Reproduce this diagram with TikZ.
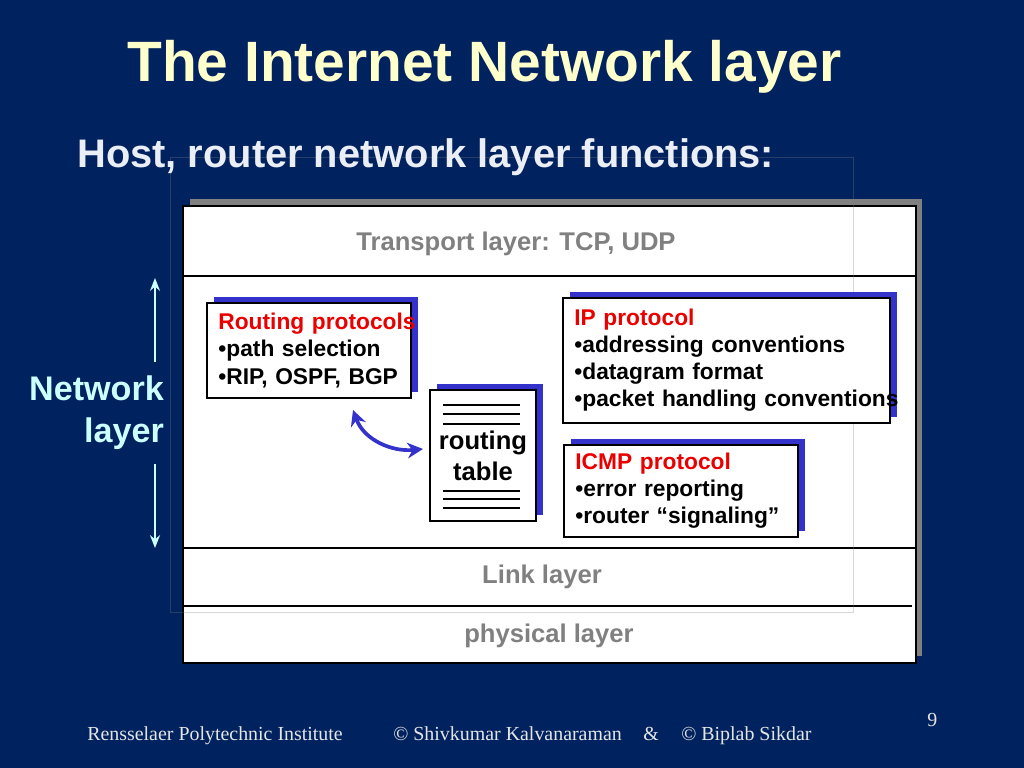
\documentclass[tikz,border=0pt]{standalone}
\usepackage{fontspec}
\setmainfont{Liberation Sans}
\newfontfamily\footfont{Liberation Serif}
\usetikzlibrary{arrows.meta,shadows}

\definecolor{slidebg}{RGB}{0,34,94}
\definecolor{titleyellow}{RGB}{255,255,204}
\definecolor{subwhite}{RGB}{235,238,245}
\definecolor{labelcyan}{RGB}{204,255,255}
\definecolor{shadowblue}{RGB}{51,51,204}
\definecolor{layergray}{RGB}{128,128,128}
\definecolor{protored}{RGB}{235,0,0}

\tikzset{
  layertext/.style={font=\fontsize{18}{22}\selectfont\bfseries, text=layergray},
  layerline/.style={line width=1.3pt},
  protobox/.style={draw=black, line width=1.2pt, fill=white, inner xsep=8pt, align=left,
    font=\fontsize{16}{19}\selectfont\bfseries,
    execute at begin node={\hyphenpenalty=10000\exhyphenpenalty=10000},
    drop shadow={shadow xshift=5pt, shadow yshift=4.5pt, fill=shadowblue, opacity=1}},
  nlarrow/.style={-{Stealth[length=9pt,width=7pt]}, line width=1.5pt, draw=labelcyan},
  swaparrow/.style={{Stealth[length=11pt,width=11pt]}-{Stealth[length=11pt,width=11pt]},
    line width=2.6pt, draw=shadowblue},
  footer/.style={font=\footfont\fontsize{14}{16}\selectfont, text=white!90!black,
    anchor=base west, inner sep=0pt},
}

\begin{document}
\begin{tikzpicture}[x=0.703125pt, y=-0.703125pt]
  % slide
  \fill[slidebg] (0,0) rectangle (1024,768);
  \useasboundingbox (0,0) rectangle (1024,768);

  \node[font=\fontsize{40}{48}\selectfont\bfseries, text=titleyellow, anchor=base west, inner sep=0pt]
    (title) at (127,82) {The Internet Network layer};

  % layer stack
  \fill[layergray] (190,199) rectangle (922,656);
  \draw[fill=white, line width=1.4pt] (183,206) rectangle (916,663);
  \draw[layerline] (183,276) -- (916,276);
  \draw[layerline] (183,548) -- (916,548);
  \draw[layerline] (183,606) -- (912,606);
  \draw[draw=gray, opacity=0.3, line width=0.6pt] (170,157) rectangle (853,612);

  \node[font=\fontsize{28}{34}\selectfont\bfseries, text=subwhite, anchor=base west, inner sep=0pt]
    (sub) at (77,168) {Host, router network layer functions:};

  \node[layertext] (tl) at (516,244) {Transport layer: TCP, UDP};
  \node[layertext] (ll) at (542,577) {Link layer};
  \node[layertext] (pl) at (549,636) {physical layer};

  % network layer boxes
  \node[protobox, text width=127.4pt, minimum width=143.4pt, minimum height=66.8pt]
    (rp) at (309,350.5)
    {\textcolor{protored}{Routing~protocols}\\ •path~selection\\ •RIP,~OSPF,~BGP};
  \node[protobox, text width=213.9pt, minimum width=229.9pt, minimum height=87.9pt]
    (ip) at (726.5,360.5)
    {\textcolor{protored}{IP~protocol}\\ •addressing~conventions\\ •datagram~format\\
     •packet~handling~conventions};
  \node[protobox, text width=148.5pt, minimum width=164.5pt, minimum height=64.7pt]
    (icmp) at (681,491)
    {\textcolor{protored}{ICMP~protocol}\\ •error~reporting\\ •router~“signaling”};
  \node[protobox, align=center, inner xsep=0pt, minimum width=74.5pt, minimum height=92.1pt,
    font=\fontsize{18}{22}\selectfont\bfseries]
    (rt) at (483,455.5) {routing\\table};
  \foreach \ly in {405,414,424,491,499,508}
    \draw[line width=1.2pt] (443,\ly) -- (520,\ly);

  \coordinate (rpend) at (353,410);
  \coordinate (rtend) at (423,449);
  \draw[swaparrow] (rpend) .. controls (364,440) and (392,452) .. (rtend);

  % side label
  \node[font=\fontsize{24}{29.5}\selectfont\bfseries, text=labelcyan, align=right,
    anchor=east, inner sep=2pt] (nl) at (167,413) {Network\\layer};
  \coordinate (upend) at (155,278);
  \coordinate (dnend) at (155,548);
  \draw[nlarrow, shorten <=8pt] (nl.north -| upend) -- (upend);
  \draw[nlarrow, shorten <=8pt] (nl.south -| dnend) -- (dnend);

  % footer
  \node[footer] (rpi) at (87,740) {Rensselaer Polytechnic Institute};
  \node[footer] (sk) at (393,740) {© Shivkumar Kalvanaraman};
  \node[footer] (amp) at (643,740) {\&};
  \node[footer] (bs) at (681,740) {© Biplab Sikdar};
  \node[footer] (pg) at (927,726) {9};
\end{tikzpicture}
\end{document}
